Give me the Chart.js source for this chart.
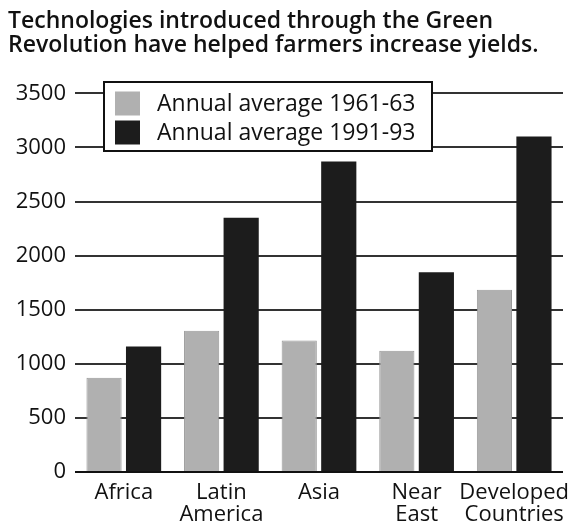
<!DOCTYPE html>
<html>
<head>
<meta charset="utf-8">
<script src="https://cdn.jsdelivr.net/npm/chart.js"></script>
<style>
  html, body { margin: 0; padding: 0; background: #fff; }
  #wrap { width: 570px; height: 524px; }
</style>
</head>
<body>
<div id="wrap"><canvas id="chart" width="570" height="524"></canvas></div>
<script>
const titleLines = [
  "Technologies introduced through the Green",
  "Revolution have helped farmers increase yields."
];
const regions = [["Africa"], ["Latin", "America"], ["Asia"], ["Near", "East"], ["Developed", "Countries"]];
const seriesNames = ["Annual average 1961-63", "Annual average 1991-93"];
const avg1961 = [870, 1305, 1215, 1120, 1685];
const avg1991 = [1160, 2350, 2870, 1845, 3100];
const yTicks = [0, 500, 1000, 1500, 2000, 2500, 3000, 3500];

const FONT = "'Open Sans', sans-serif";
const GRAY = "#b0b0b0";
const BLACK = "#1c1c1c";

// legend box drawn on top of the grid, like the printed figure
const boxLegend = {
  id: "boxLegend",
  afterDraw(chart) {
    const ctx = chart.ctx;
    const x = 104, y = 82, w = 328, h = 69;
    ctx.save();
    ctx.fillStyle = "#fff";
    ctx.fillRect(x, y, w, h);
    ctx.strokeStyle = "#111";
    ctx.lineWidth = 2;
    ctx.strokeRect(x, y, w, h);
    ctx.font = "23px " + FONT;
    ctx.textBaseline = "middle";
    chart.data.datasets.forEach((ds, i) => {
      const ry = y + 21.5 + i * 29;
      ctx.fillStyle = ds.backgroundColor;
      ctx.fillRect(x + 11, ry - 12, 25, 24);
      ctx.fillStyle = "#111";
      ctx.fillText(ds.label, x + 53, ry + 1);
    });
    ctx.restore();
  }
};

new Chart(document.getElementById("chart"), {
  type: "bar",
  data: {
    labels: regions,
    datasets: [
      {
        label: seriesNames[0],
        data: avg1961,
        backgroundColor: GRAY,
        borderColor: "#999",
        borderWidth: 1,
      },
      {
        label: seriesNames[1],
        data: avg1991,
        backgroundColor: BLACK,
      },
    ],
  },
  options: {
    responsive: false,
    animation: false,
    layout: {
      padding: { left: 8, right: 7, top: 9, bottom: 0 },
    },
    datasets: {
      bar: {
        categoryPercentage: 0.81,
        barPercentage: 0.89,
      },
    },
    plugins: {
      legend: { display: false },
      tooltip: { enabled: false },
      title: {
        display: true,
        text: titleLines,
        align: "start",
        color: "#111",
        font: { family: FONT, size: 23, weight: "600", lineHeight: 1.05 },
        padding: { top: 0, bottom: 36 },
      },
    },
    scales: {
      x: {
        afterFit(axis) {
          axis.height = 52;
          axis.paddingLeft = 0;
          axis.paddingRight = 0;
        },
        grid: { display: false },
        border: { display: false },
        ticks: {
          color: "#111",
          font: { family: FONT, size: 22, lineHeight: 1.0 },
          maxRotation: 0,
          autoSkip: false,
          padding: 2,
        },
      },
      y: {
        min: 0,
        max: 3500,
        afterBuildTicks(axis) {
          axis.ticks = yTicks.map((v) => ({ value: v }));
        },
        afterFit(axis) {
          axis.width = 67;
        },
        grid: {
          color: (c) => (c.tick && c.tick.value === 0 ? "#111" : "#333"),
          lineWidth: 2,
          drawTicks: false,
        },
        border: { display: false },
        ticks: {
          color: "#111",
          font: { family: FONT, size: 22 },
          padding: 9,
          callback: (v) => String(v),
        },
      },
    },
  },
  plugins: [boxLegend],
});
</script>
</body>
</html>
